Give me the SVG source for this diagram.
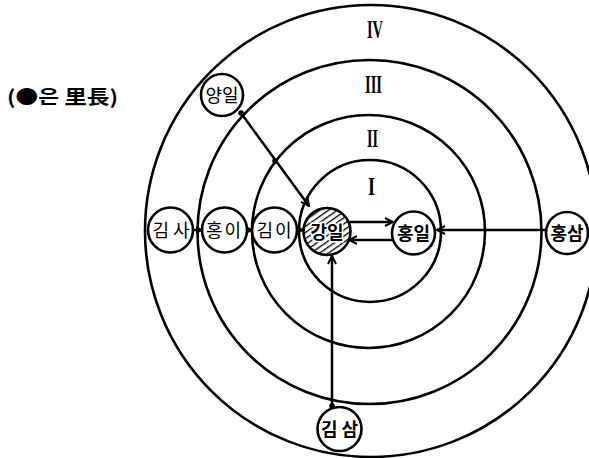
<svg xmlns="http://www.w3.org/2000/svg" width="589" height="458" viewBox="0 0 589 458">
<style>
.ring{fill:none;stroke:#000;stroke-width:2.6}
.node{fill:#fff;stroke:#000;stroke-width:2.6}
.lbl{font-family:"Noto Sans CJK KR","Noto Sans",sans-serif;font-size:18px;text-anchor:middle;fill:#000}
.b{font-weight:bold}
.rom{font-family:"Liberation Serif",serif;font-weight:bold;font-size:25px;fill:#000}
.con{fill:none;stroke:#000;stroke-width:2.5}
.dot{fill:#000}
</style>
<defs>
<marker id="open" viewBox="0 0 10 10" refX="9" refY="5" markerWidth="10" markerHeight="10" orient="auto" markerUnits="userSpaceOnUse">
<path d="M1,1 L9,5 L1,9" fill="none" stroke="#000" stroke-width="2"/>
</marker>
<marker id="solid" viewBox="0 0 10 10" refX="9" refY="5" markerWidth="8" markerHeight="8" orient="auto" markerUnits="userSpaceOnUse">
<path d="M0,0 L10,5 L0,10z" fill="#000"/>
</marker>
<pattern id="hatch" patternUnits="userSpaceOnUse" width="5" height="5" patternTransform="rotate(55)">
<line x1="0" y1="0" x2="0" y2="5" stroke="#000" stroke-width="2.6"/>
</pattern>
</defs>
<rect width="589" height="458" fill="#fff"/>

<g id="rings">
<circle class="ring" cx="370" cy="231" r="71"/>
<circle class="ring" cx="368.5" cy="231.5" r="116.5"/>
<circle class="ring" cx="369.5" cy="232" r="172"/>
<circle class="ring" cx="371" cy="231" r="226"/>
</g>

<g id="zone-labels">
<text class="rom" x="367" y="38" textLength="16" lengthAdjust="spacingAndGlyphs">IV</text>
<text class="rom" x="365" y="93" textLength="17" lengthAdjust="spacingAndGlyphs">III</text>
<text class="rom" x="367" y="147" textLength="11" lengthAdjust="spacingAndGlyphs">II</text>
<text class="rom" x="368" y="195" textLength="7" lengthAdjust="spacingAndGlyphs">I</text>
</g>

<g id="legend">
<text x="7" y="104" font-family="'Noto Sans CJK KR','Noto Sans',sans-serif" font-size="19" font-weight="bold" textLength="111" lengthAdjust="spacingAndGlyphs">(●은 里長)</text>
</g>

<g id="connectors">
<line class="con" x1="241" y1="113" x2="309" y2="206" marker-end="url(#open)"/>
<line class="con" x1="350" y1="222" x2="393" y2="222" marker-end="url(#open)"/>
<line class="con" x1="392" y1="240" x2="349" y2="240" marker-end="url(#open)"/>
<line class="con" x1="546" y1="230" x2="437" y2="230" marker-end="url(#open)"/>
<line class="con" x1="332" y1="407" x2="332" y2="256" marker-end="url(#open)"/>
<line class="con" x1="193" y1="230" x2="203" y2="230" marker-end="url(#solid)"/>
<line class="con" x1="247" y1="230" x2="253" y2="230" marker-end="url(#solid)"/>
<line class="con" x1="297" y1="230" x2="304" y2="230" marker-end="url(#solid)"/>
<circle class="dot" cx="241" cy="113" r="2.8"/>
<circle class="dot" cx="275" cy="161" r="2.8"/>
<circle class="dot" cx="332" cy="406" r="2.8"/>
</g>

<g id="n-yangil">
<circle class="node" cx="222" cy="95" r="21"/>
<text class="lbl" x="222" y="102">양일</text>
</g>
<g id="n-kimsa">
<circle class="node" cx="170.5" cy="230" r="22.5"/>
<text class="lbl" x="171" y="237">김 사</text>
</g>
<g id="n-hongi">
<circle class="node" cx="224.5" cy="230" r="22.5"/>
<text class="lbl" x="224.5" y="237" letter-spacing="2">홍이</text>
</g>
<g id="n-kimi">
<circle class="node" cx="274.5" cy="230" r="22.5"/>
<text class="lbl" x="275" y="237" letter-spacing="2">김이</text>
</g>
<g id="n-gangil">
<circle cx="327" cy="231.5" r="23.5" fill="url(#hatch)" stroke="#000" stroke-width="2.6"/>
<text class="lbl b" x="327" y="239" stroke="#fff" stroke-width="3" paint-order="stroke">강일</text>
</g>
<g id="n-hongil">
<circle class="node" cx="413.5" cy="233" r="21.5"/>
<text class="lbl b" x="413.5" y="240">홍일</text>
</g>
<g id="n-hongsam">
<circle class="node" cx="567" cy="233" r="21"/>
<text class="lbl b" x="567" y="240">홍삼</text>
</g>
<g id="n-kimsam">
<circle class="node" cx="339.5" cy="429" r="22"/>
<text class="lbl b" x="339.5" y="436">김 삼</text>
</g>
</svg>
